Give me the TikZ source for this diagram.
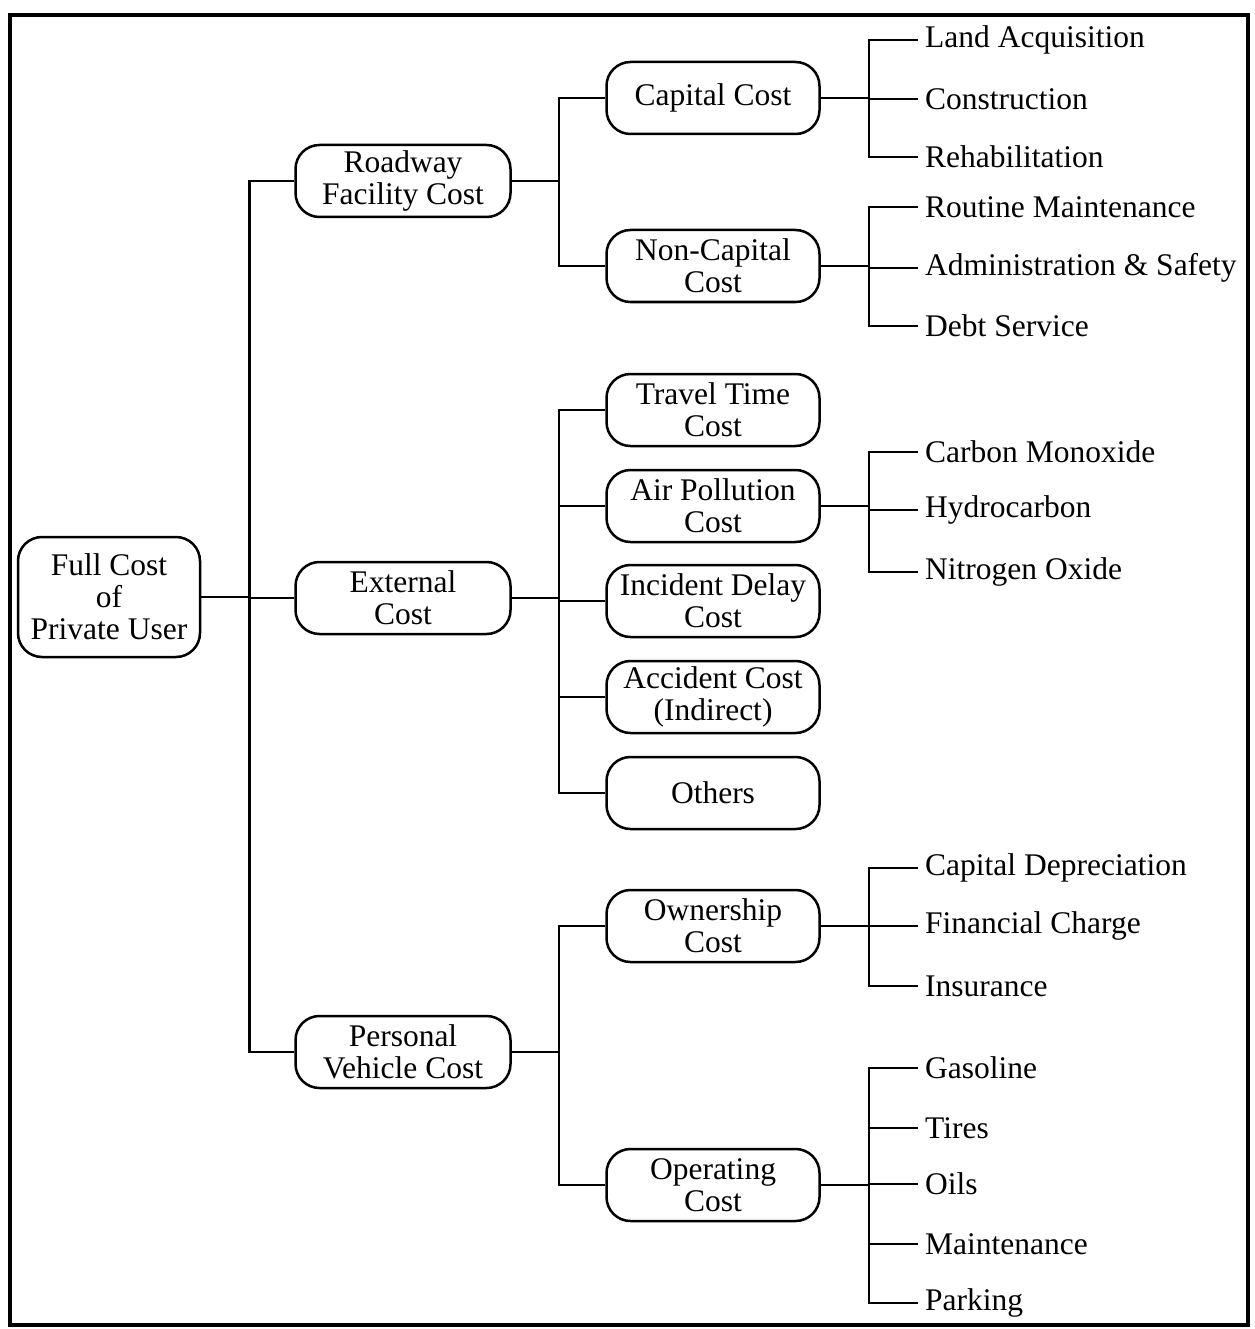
\documentclass[tikz,border=0pt]{standalone}
\usepackage{fontspec}
\setmainfont{Liberation Serif}
\begin{document}
\begin{tikzpicture}[x=1pt,y=-1pt,
  every node/.style={font=\fontsize{31.5}{32}\selectfont},
  box/.style={draw, rounded corners=24pt, minimum width=215pt, minimum height=72pt, align=center, inner sep=2pt, line width=2.5pt},
  leaf/.style={anchor=west, inner sep=7pt},
  conn/.style={line width=2.5pt}]
\useasboundingbox (0,0) rectangle (1254,1329);
\draw[line width=4pt] (10,15) rectangle (1248,1325);

% root
\node[box, minimum width=182pt, minimum height=120pt] (full) at (109,597) {Full Cost\\of\\Private User};
% level 1
\node[box] (road) at (403,181) {Roadway\\Facility Cost};
\node[box] (ext) at (403,598) {External\\Cost};
\node[box] (pers) at (403,1052) {Personal\\Vehicle Cost};
% level 2
\node[box, minimum width=213pt] (cap) at (713,98) {Capital Cost};
\node[box, minimum width=213pt] (noncap) at (713,266) {Non-Capital\\Cost};
\node[box, minimum width=213pt] (travel) at (713,410) {Travel Time\\Cost};
\node[box, minimum width=213pt] (air) at (713,506) {Air Pollution\\Cost};
\node[box, minimum width=213pt] (incid) at (713,601) {Incident Delay\\Cost};
\node[box, minimum width=213pt] (accid) at (713,697) {Accident Cost\\(Indirect)};
\node[box, minimum width=213pt] (others) at (713,793) {Others};
\node[box, minimum width=213pt] (own) at (713,926) {Ownership\\Cost};
\node[box, minimum width=213pt] (oper) at (713,1185) {Operating\\Cost};
% leaves
\node[leaf] (l1) at (918,40) {Land Acquisition};
\node[leaf] (l2) at (918,99) {Construction};
\node[leaf] (l3) at (918,157) {Rehabilitation};
\node[leaf] (l4) at (918,207) {Routine Maintenance};
\node[leaf] (l5) at (918,268) {Administration \& Safety};
\node[leaf] (l6) at (918,326) {Debt Service};
\node[leaf] (l7) at (918,452) {Carbon Monoxide};
\node[leaf] (l8) at (918,510) {Hydrocarbon};
\node[leaf] (l9) at (918,572) {Nitrogen Oxide};
\node[leaf] (l10) at (918,868) {Capital Depreciation};
\node[leaf] (l11) at (918,926) {Financial Charge};
\node[leaf] (l12) at (918,986) {Insurance};
\node[leaf] (l13) at (918,1068) {Gasoline};
\node[leaf] (l14) at (918,1128) {Tires};
\node[leaf] (l15) at (918,1184) {Oils};
\node[leaf] (l16) at (918,1244) {Maintenance};
\node[leaf] (l17) at (918,1303) {Parking};

\begin{scope}[conn]
\draw (full.east) -- ++(48,0) coordinate (b0);
\draw (b0) |- (road.west); \draw (b0) |- (ext.west); \draw (b0) |- (pers.west);
\draw (road.east) -- ++(47,0) coordinate (b1);
\draw (b1) |- (cap.west); \draw (b1) |- (noncap.west);
\draw (ext.east) -- ++(47,0) coordinate (b2);
\draw (b2) |- (travel.west); \draw (b2) |- (air.west); \draw (b2) |- (incid.west);
\draw (b2) |- (accid.west); \draw (b2) |- (others.west);
\draw (pers.east) -- ++(47,0) coordinate (b3);
\draw (b3) |- (own.west); \draw (b3) |- (oper.west);
\draw (cap.east) -- ++(48,0) coordinate (c1);
\draw (c1) |- (l1.west); \draw (c1) |- (l2.west); \draw (c1) |- (l3.west);
\draw (noncap.east) -- ++(48,0) coordinate (c2);
\draw (c2) |- (l4.west); \draw (c2) |- (l5.west); \draw (c2) |- (l6.west);
\draw (air.east) -- ++(48,0) coordinate (c3);
\draw (c3) |- (l7.west); \draw (c3) |- (l8.west); \draw (c3) |- (l9.west);
\draw (own.east) -- ++(48,0) coordinate (c4);
\draw (c4) |- (l10.west); \draw (c4) |- (l11.west); \draw (c4) |- (l12.west);
\draw (oper.east) -- ++(48,0) coordinate (c5);
\draw (c5) |- (l13.west); \draw (c5) |- (l14.west); \draw (c5) |- (l15.west);
\draw (c5) |- (l16.west); \draw (c5) |- (l17.west);
\end{scope}
\end{tikzpicture}
\end{document}
